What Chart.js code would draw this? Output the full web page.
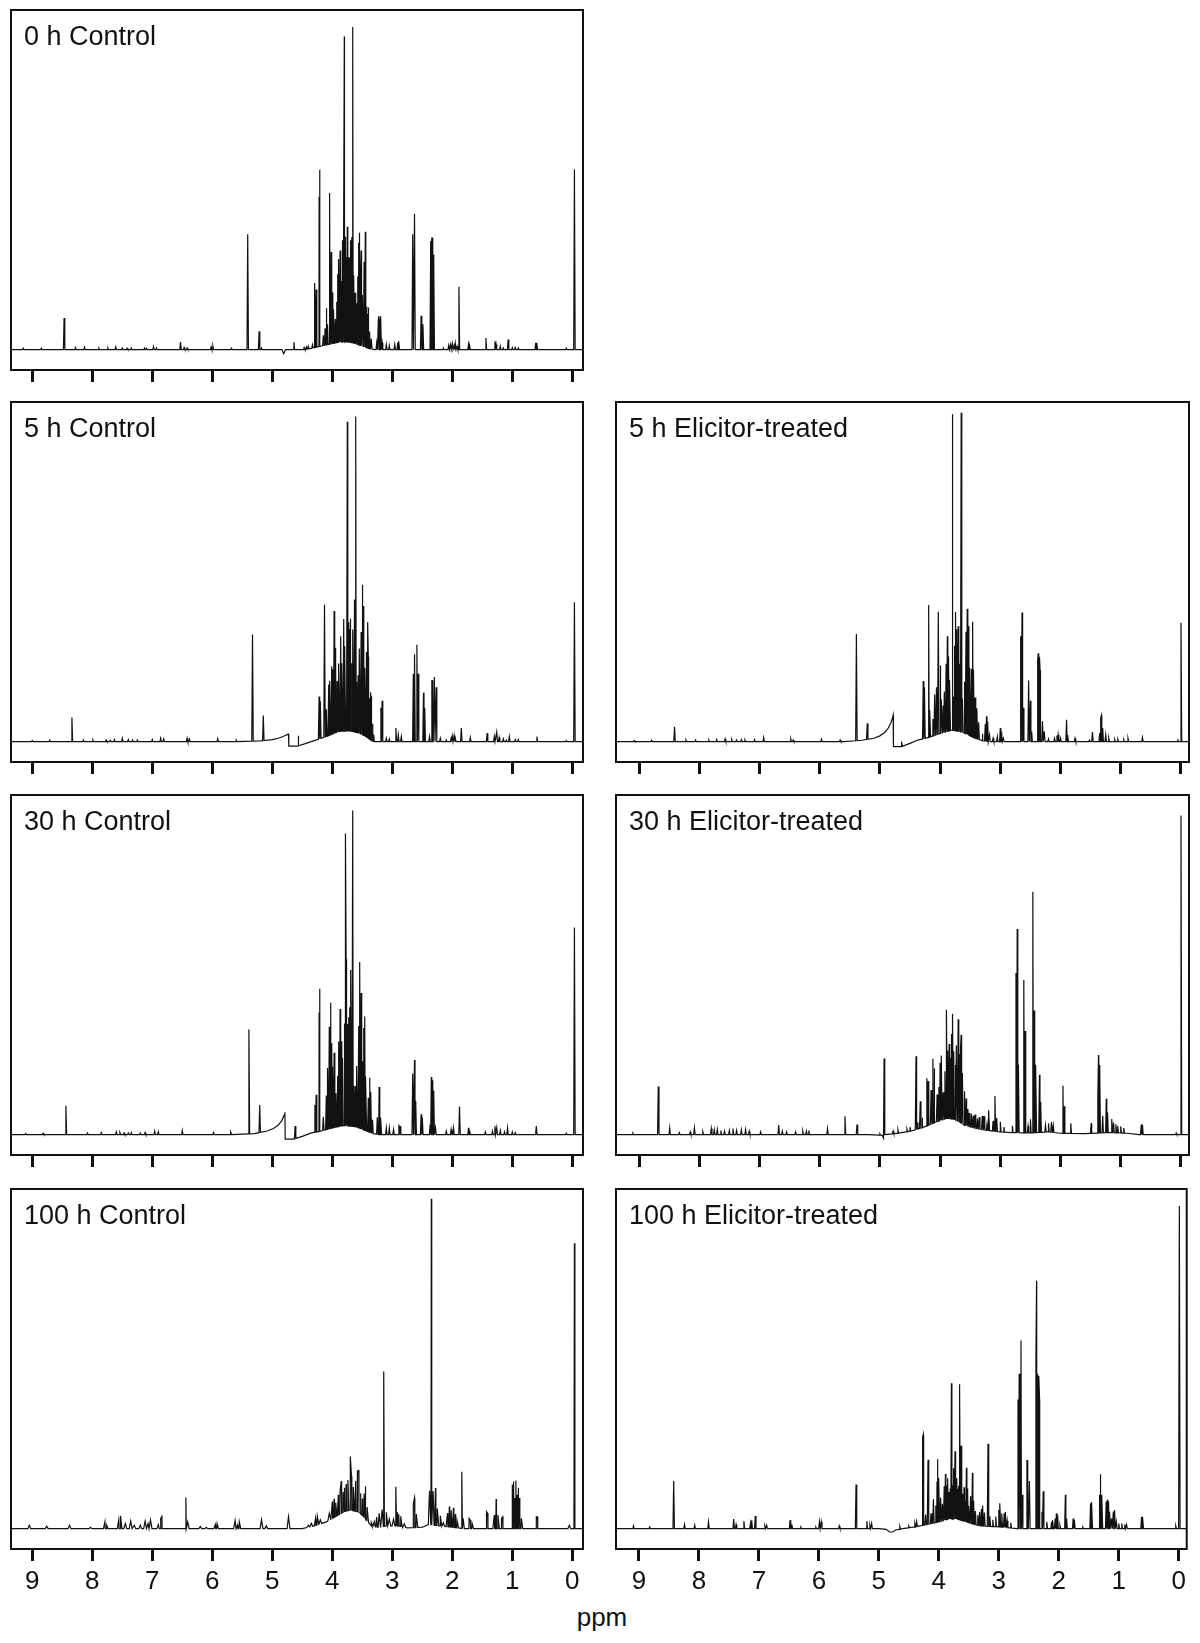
<!DOCTYPE html>
<html>
<head>
<meta charset="utf-8">
<title>1H NMR spectra</title>
<script src="https://cdn.jsdelivr.net/npm/chart.js@4.4.0/dist/chart.umd.min.js"></script>
<style>
    html, body { margin: 0; padding: 0; background: #fff; }
    #figure { position: relative; width: 1200px; height: 1643px; overflow: hidden; }
    #figure canvas { position: absolute; }
    #ppm-label {
        position: absolute; left: 540px; width: 124px; top: 1604px;
        text-align: center; font: 26px/26px "Liberation Sans", Arial, sans-serif; color: #111;
    }
</style>
</head>
<body>
<div id="figure">
    <div id="ppm-label">ppm</div>
</div>
<script>
// 刻度與標題
const PPM_TICKS = [9, 8, 7, 6, 5, 4, 3, 2, 1, 0];
const PANEL_TITLES = ['0 h Control', '5 h Control', '5 h Elicitor-treated', '30 h Control',
    '30 h Elicitor-treated', '100 h Control', '100 h Elicitor-treated'];

// 每張光譜: 基線 [ppm, 強度] 與峰 [ppm, 峰高, 半寬?]
const BASE_0H_CTRL = [[9.4, 0], [4.84, 0], [4.81, -0.012], [4.78, 0], [4.45, 0], [4.3, 0.006], [4.1, 0.014],
    [3.9, 0.022], [3.7, 0.022], [3.55, 0.014], [3.4, 0.004], [3.3, 0], [-0.2, 0]];
const PEAKS_0H_CTRL = [[9.15, 0.004], [8.85, 0.004], [8.47, 0.093], [8.28, 0.006], [8.13, 0.007], [7.89, 0.004],
    [7.74, 0.005], [7.61, 0.008], [7.5, 0.005], [7.42, 0.004], [7.35, 0.005], [7.13, 0.005], [7.1, 0.004],
    [6.98, 0.009], [6.93, 0.005], [6.53, 0.022], [6.47, 0.006], [6.42, 0.005], [6.02, 0.008], [5.99, 0.01],
    [5.68, 0.004], [5.41, 0.34], [5.22, 0.054], [5.18, 0.005], [4.64, 0.022], [4.47, 0.006], [4.43, 0.007],
    [4.4, 0.008], [4.33, 0.01], [4.29, 0.19], [4.27, 0.17], [4.22, 0.44], [4.21, 0.52], [4.15, 0.03],
    [4.12, 0.05], [4.1, 0.108], [4.08, 0.06], [4.05, 0.3], [4.04, 0.445], [4.02, 0.27], [4.0, 0.15],
    [3.98, 0.1], [3.95, 0.07], [3.93, 0.12], [3.91, 0.2], [3.89, 0.245], [3.87, 0.27], [3.85, 0.18],
    [3.83, 0.3], [3.8, 0.9], [3.785, 0.31], [3.77, 0.25], [3.75, 0.34], [3.73, 0.2], [3.72, 0.25],
    [3.7, 0.3], [3.68, 0.31], [3.66, 0.93], [3.64, 0.2], [3.62, 0.15], [3.6, 0.12], [3.58, 0.2],
    [3.56, 0.3], [3.55, 0.33], [3.53, 0.2], [3.52, 0.28], [3.5, 0.15], [3.47, 0.25], [3.45, 0.34],
    [3.43, 0.12], [3.41, 0.1], [3.4, 0.12], [3.38, 0.05], [3.35, 0.03], [3.26, 0.02], [3.23, 0.098],
    [3.21, 0.09], [3.19, 0.098], [3.17, 0.02], [3.1, 0.015], [3.05, 0.012], [2.96, 0.015], [2.91, 0.02],
    [2.89, 0.025], [2.66, 0.34], [2.63, 0.4], [2.52, 0.1], [2.49, 0.075], [2.36, 0.32], [2.345, 0.33],
    [2.33, 0.33], [2.31, 0.28], [2.15, 0.005], [2.06, 0.012], [2.03, 0.015], [2.0, 0.018], [1.97, 0.012],
    [1.95, 0.018], [1.92, 0.01], [1.89, 0.185], [1.73, 0.015], [1.71, 0.01], [1.44, 0.034], [1.29, 0.025],
    [1.27, 0.015], [1.2, 0.01], [1.15, 0.005], [1.07, 0.03], [1.0, 0.006], [0.95, 0.006], [0.9, 0.005],
    [0.61, 0.02], [0.59, 0.02], [0.1, 0.004], [-0.035, 0.53]];

const BASE_5H_CTRL = [[9.4, 0], [5.6, 0], [5.2, 0.002], [5.0, 0.006], [4.9, 0.01], [4.82, 0.015], [4.76, 0.02],
    [4.73, 0.022], [4.725, -0.013], [4.57, -0.013], [4.45, -0.006], [4.3, 0.003], [4.1, 0.015], [3.9, 0.03],
    [3.7, 0.032], [3.5, 0.022], [3.35, 0.004], [3.3, 0], [-0.2, 0]];
const PEAKS_5H_CTRL = [[9.0, 0.003], [8.71, 0.004], [8.34, 0.071], [8.15, 0.005], [7.99, 0.005], [7.77, 0.005],
    [7.7, 0.004], [7.63, 0.006], [7.5, 0.01], [7.4, 0.006], [7.33, 0.005], [7.25, 0.005], [7.0, 0.006],
    [6.86, 0.01], [6.81, 0.008], [6.42, 0.01], [6.38, 0.007], [5.91, 0.009], [5.6, 0.004], [5.33, 0.314],
    [5.15, 0.074], [4.57, 0.03], [4.22, 0.125], [4.2, 0.11], [4.13, 0.39], [4.1, 0.08], [4.06, 0.15],
    [4.04, 0.16], [4.01, 0.2], [3.99, 0.19], [3.97, 0.36], [3.95, 0.25], [3.94, 0.21], [3.92, 0.15],
    [3.89, 0.2], [3.86, 0.28], [3.84, 0.2], [3.81, 0.33], [3.79, 0.25], [3.75, 0.91], [3.73, 0.32],
    [3.71, 0.3], [3.7, 0.33], [3.68, 0.2], [3.66, 0.3], [3.63, 0.39], [3.61, 0.93], [3.59, 0.15],
    [3.57, 0.17], [3.55, 0.25], [3.52, 0.3], [3.5, 0.44], [3.48, 0.38], [3.46, 0.2], [3.43, 0.25],
    [3.41, 0.34], [3.4, 0.24], [3.38, 0.12], [3.36, 0.14], [3.35, 0.13], [3.33, 0.05], [3.31, 0.02],
    [3.19, 0.1], [3.17, 0.12], [3.16, 0.08], [3.1, 0.01], [3.05, 0.008], [2.94, 0.04], [2.9, 0.02],
    [2.85, 0.015], [2.65, 0.2], [2.63, 0.257], [2.59, 0.285], [2.57, 0.2], [2.48, 0.144], [2.46, 0.1],
    [2.38, 0.015], [2.34, 0.18], [2.33, 0.18], [2.3, 0.19], [2.27, 0.16], [2.2, 0.01], [2.1, 0.005],
    [2.02, 0.01], [2.0, 0.015], [1.97, 0.018], [1.95, 0.01], [1.85, 0.04], [1.7, 0.012], [1.42, 0.025],
    [1.3, 0.015], [1.26, 0.028], [1.22, 0.012], [1.15, 0.008], [1.1, 0.005], [1.05, 0.015], [0.95, 0.006],
    [0.9, 0.006], [0.59, 0.015], [0.1, 0.003], [-0.035, 0.41]];

const BASE_5H_ELIC = [[9.4, 0], [5.6, 0], [5.3, 0.004], [5.1, 0.01], [5.0, 0.017], [4.92, 0.027], [4.86, 0.04],
    [4.82, 0.055], [4.79, 0.07], [4.78, 0.078], [4.775, -0.015], [4.64, -0.015], [4.5, -0.005], [4.38, 0.004],
    [4.2, 0.012], [4.0, 0.024], [3.8, 0.034], [3.6, 0.026], [3.45, 0.012], [3.3, 0.003], [3.2, 0], [-0.2, 0]];
const PEAKS_5H_ELIC = [[9.08, 0.003], [8.79, 0.004], [8.41, 0.044], [8.22, 0.005], [8.06, 0.005], [7.84, 0.005],
    [7.71, 0.006], [7.57, 0.008], [7.46, 0.006], [7.38, 0.005], [7.3, 0.006], [7.24, 0.005], [7.08, 0.006],
    [6.93, 0.012], [6.48, 0.008], [6.44, 0.005], [5.97, 0.007], [5.66, 0.005], [5.39, 0.314], [5.21, 0.047],
    [4.64, 0.015], [4.28, 0.17], [4.26, 0.15], [4.19, 0.39], [4.17, 0.08], [4.12, 0.05], [4.09, 0.12],
    [4.06, 0.14], [4.03, 0.36], [4.0, 0.2], [3.98, 0.1], [3.95, 0.08], [3.93, 0.12], [3.9, 0.2],
    [3.88, 0.28], [3.86, 0.22], [3.84, 0.15], [3.8, 0.93], [3.78, 0.1], [3.76, 0.25], [3.74, 0.35],
    [3.72, 0.3], [3.7, 0.31], [3.68, 0.2], [3.65, 0.94], [3.63, 0.1], [3.6, 0.15], [3.57, 0.3],
    [3.55, 0.37], [3.53, 0.32], [3.51, 0.2], [3.48, 0.2], [3.46, 0.34], [3.44, 0.2], [3.42, 0.12],
    [3.39, 0.09], [3.36, 0.05], [3.3, 0.02], [3.25, 0.05], [3.23, 0.074], [3.21, 0.06], [3.18, 0.02],
    [3.12, 0.01], [3.05, 0.015], [3.0, 0.04], [2.98, 0.03], [2.95, 0.01], [2.67, 0.3], [2.66, 0.31],
    [2.64, 0.38], [2.62, 0.1], [2.53, 0.18], [2.5, 0.12], [2.48, 0.03], [2.38, 0.24], [2.37, 0.26],
    [2.35, 0.25], [2.34, 0.21], [2.3, 0.06], [2.27, 0.03], [2.2, 0.008], [2.1, 0.01], [2.06, 0.018],
    [2.04, 0.02], [2.0, 0.01], [1.9, 0.064], [1.88, 0.02], [1.76, 0.01], [1.52, 0.005], [1.47, 0.028],
    [1.35, 0.025], [1.33, 0.07], [1.32, 0.078], [1.3, 0.04], [1.25, 0.02], [1.2, 0.01], [1.1, 0.006],
    [1.05, 0.007], [0.95, 0.006], [0.88, 0.01], [0.64, 0.012], [0.05, 0.004], [0.0, 0.35]];

const BASE_30H_CTRL = [[9.4, 0], [5.7, 0], [5.3, 0.003], [5.1, 0.01], [4.98, 0.018], [4.9, 0.028], [4.84, 0.042],
    [4.8, 0.058], [4.79, 0.066], [4.785, -0.013], [4.64, -0.013], [4.5, -0.005], [4.35, 0.005], [4.2, 0.01],
    [4.0, 0.02], [3.8, 0.027], [3.6, 0.023], [3.45, 0.012], [3.3, 0.002], [3.2, 0], [-0.2, 0]];
const PEAKS_30H_CTRL = [[9.11, 0.003], [8.82, 0.004], [8.44, 0.085], [8.08, 0.005], [7.85, 0.006], [7.6, 0.008],
    [7.54, 0.006], [7.47, 0.005], [7.4, 0.005], [7.35, 0.006], [7.2, 0.005], [7.12, 0.006], [6.96, 0.01],
    [6.9, 0.009], [6.5, 0.012], [5.98, 0.006], [5.69, 0.008], [5.39, 0.307], [5.21, 0.081], [4.62, 0.037],
    [4.29, 0.08], [4.27, 0.11], [4.22, 0.35], [4.21, 0.42], [4.15, 0.04], [4.1, 0.1], [4.08, 0.18],
    [4.05, 0.3], [4.03, 0.37], [4.01, 0.25], [3.99, 0.18], [3.97, 0.22], [3.94, 0.1], [3.91, 0.15],
    [3.89, 0.25], [3.87, 0.345], [3.85, 0.25], [3.83, 0.2], [3.8, 0.3], [3.78, 0.86], [3.77, 0.49],
    [3.75, 0.3], [3.73, 0.32], [3.71, 0.35], [3.69, 0.46], [3.66, 0.93], [3.64, 0.12], [3.62, 0.12],
    [3.59, 0.18], [3.56, 0.3], [3.54, 0.49], [3.52, 0.4], [3.5, 0.2], [3.48, 0.3], [3.46, 0.335],
    [3.44, 0.16], [3.4, 0.1], [3.38, 0.16], [3.36, 0.12], [3.33, 0.04], [3.25, 0.05], [3.22, 0.14],
    [3.21, 0.12], [3.19, 0.05], [3.1, 0.02], [3.05, 0.02], [2.98, 0.015], [2.89, 0.03], [2.87, 0.025],
    [2.66, 0.18], [2.63, 0.22], [2.61, 0.1], [2.52, 0.06], [2.5, 0.05], [2.37, 0.03], [2.35, 0.17],
    [2.33, 0.16], [2.31, 0.13], [2.28, 0.02], [2.1, 0.01], [2.02, 0.015], [1.98, 0.02], [1.88, 0.083],
    [1.73, 0.02], [1.71, 0.012], [1.45, 0.008], [1.33, 0.01], [1.29, 0.025], [1.26, 0.02], [1.2, 0.012],
    [1.13, 0.008], [1.08, 0.02], [1.0, 0.008], [0.95, 0.006], [0.6, 0.025], [0.1, 0.004], [-0.035, 0.61]];

const BASE_30H_ELIC = [[9.4, 0], [5.2, 0], [4.96, -0.002], [4.94, -0.01], [4.92, 0], [4.7, 0.004], [4.5, 0.01],
    [4.3, 0.02], [4.1, 0.035], [3.9, 0.048], [3.75, 0.045], [3.6, 0.028], [3.4, 0.018], [3.2, 0.012],
    [3.0, 0.008], [2.8, 0.006], [2.5, 0.005], [2.2, 0.008], [2.0, 0.004], [1.6, 0.003], [1.2, 0.006],
    [0.9, 0.004], [0.7, 0], [-0.2, 0]];
const PEAKS_30H_ELIC = [[9.1, 0.004], [8.68, 0.142], [8.49, 0.02], [8.33, 0.006], [8.15, 0.008], [8.08, 0.02],
    [7.94, 0.008], [7.8, 0.018], [7.75, 0.014], [7.7, 0.016], [7.64, 0.012], [7.58, 0.01], [7.5, 0.012],
    [7.44, 0.018], [7.38, 0.012], [7.3, 0.014], [7.23, 0.015], [7.17, 0.01], [6.98, 0.008], [6.68, 0.028],
    [6.62, 0.01], [6.55, 0.008], [6.4, 0.008], [6.28, 0.01], [6.22, 0.01], [6.18, 0.012], [5.87, 0.018],
    [5.58, 0.054], [5.38, 0.03], [5.0, 0.004], [4.93, 0.229], [4.78, 0.008], [4.7, 0.01], [4.55, 0.008],
    [4.5, 0.012], [4.4, 0.216], [4.38, 0.02], [4.33, 0.08], [4.3, 0.03], [4.22, 0.14], [4.2, 0.13],
    [4.15, 0.1], [4.12, 0.19], [4.1, 0.16], [4.05, 0.08], [4.02, 0.1], [4.0, 0.17], [3.98, 0.19],
    [3.95, 0.08], [3.92, 0.14], [3.89, 0.32], [3.87, 0.2], [3.85, 0.22], [3.83, 0.18], [3.81, 0.25],
    [3.79, 0.31], [3.77, 0.2], [3.75, 0.16], [3.73, 0.22], [3.7, 0.3], [3.68, 0.2], [3.66, 0.22],
    [3.65, 0.26], [3.63, 0.15], [3.6, 0.1], [3.57, 0.08], [3.55, 0.05], [3.52, 0.04], [3.48, 0.04],
    [3.45, 0.035], [3.42, 0.04], [3.38, 0.03], [3.35, 0.035], [3.3, 0.04], [3.27, 0.04], [3.22, 0.02],
    [3.19, 0.06], [3.12, 0.03], [3.09, 0.104], [3.06, 0.04], [3.0, 0.03], [2.94, 0.015], [2.8, 0.02],
    [2.74, 0.47], [2.72, 0.6], [2.7, 0.2], [2.61, 0.45], [2.59, 0.3], [2.54, 0.02], [2.5, 0.04],
    [2.46, 0.71], [2.44, 0.36], [2.43, 0.34], [2.41, 0.2], [2.35, 0.17], [2.33, 0.09], [2.25, 0.02],
    [2.2, 0.025], [2.15, 0.03], [2.12, 0.02], [1.96, 0.14], [1.94, 0.08], [1.83, 0.03], [1.5, 0.012],
    [1.49, 0.03], [1.38, 0.1], [1.37, 0.23], [1.35, 0.2], [1.3, 0.05], [1.24, 0.1], [1.22, 0.06],
    [1.15, 0.04], [1.12, 0.03], [1.08, 0.025], [1.05, 0.02], [1.0, 0.02], [0.95, 0.015], [0.66, 0.03],
    [0.64, 0.03], [0.08, 0.005], [0.0, 0.94]];

const BASE_100H_CTRL = [[9.4, 0], [4.5, 0], [4.3, 0.008], [4.1, 0.02], [3.95, 0.035], [3.8, 0.05], [3.7, 0.055],
    [3.55, 0.048], [3.45, 0.03], [3.35, 0.008], [3.25, 0.004], [3.1, 0.008], [2.9, 0.008], [2.75, 0.002],
    [2.5, 0.004], [2.4, 0.012], [2.2, 0.008], [2.0, 0.004], [1.8, 0], [-0.2, 0]];
const PEAKS_100H_CTRL = [[9.05, 0.01], [8.76, 0.007], [8.38, 0.01], [8.03, 0.004], [7.79, 0.02], [7.76, 0.01],
    [7.56, 0.025], [7.53, 0.038], [7.45, 0.015], [7.36, 0.022], [7.3, 0.01], [7.2, 0.01], [7.12, 0.022],
    [7.07, 0.015], [7.03, 0.025], [6.9, 0.012], [6.86, 0.03], [6.84, 0.036], [6.44, 0.092, 0.01],
    [6.41, 0.02], [6.2, 0.006], [6.1, 0.004], [5.95, 0.012], [5.92, 0.014], [5.62, 0.024], [5.58, 0.01],
    [5.55, 0.02], [5.18, 0.026], [5.1, 0.008], [4.73, 0.035], [4.4, 0.006], [4.35, 0.01], [4.28, 0.02],
    [4.25, 0.025], [4.2, 0.012], [4.05, 0.02], [4.0, 0.05], [3.97, 0.055], [3.94, 0.04], [3.9, 0.06],
    [3.87, 0.07], [3.85, 0.095], [3.82, 0.06], [3.8, 0.07], [3.77, 0.08], [3.74, 0.09], [3.7, 0.157],
    [3.68, 0.1], [3.65, 0.07], [3.61, 0.09], [3.58, 0.12], [3.56, 0.123], [3.53, 0.06], [3.5, 0.05],
    [3.47, 0.07], [3.45, 0.095], [3.42, 0.04], [3.35, 0.01], [3.3, 0.015], [3.26, 0.03], [3.22, 0.04],
    [3.17, 0.05], [3.14, 0.456, 0.008], [3.1, 0.04], [3.05, 0.02], [2.98, 0.02], [2.94, 0.115, 0.012],
    [2.92, 0.04], [2.89, 0.035], [2.86, 0.03], [2.8, 0.01], [2.65, 0.07], [2.63, 0.087], [2.6, 0.04],
    [2.38, 0.1], [2.35, 0.96, 0.008], [2.32, 0.1], [2.28, 0.11], [2.25, 0.05], [2.2, 0.03], [2.15, 0.01],
    [2.08, 0.04], [2.05, 0.06], [2.02, 0.05], [1.98, 0.058], [1.95, 0.04], [1.92, 0.02],
    [1.84, 0.167, 0.008], [1.82, 0.03], [1.72, 0.03], [1.7, 0.025], [1.67, 0.015], [1.43, 0.05],
    [1.41, 0.045], [1.3, 0.04], [1.27, 0.087], [1.24, 0.04], [1.18, 0.03], [1.16, 0.035], [1.0, 0.13],
    [0.98, 0.139], [0.96, 0.09], [0.94, 0.142], [0.92, 0.1], [0.9, 0.12], [0.88, 0.09], [0.85, 0.03],
    [0.6, 0.035], [0.58, 0.035], [0.05, 0.01], [-0.035, 0.84, 0.008]];

const BASE_100H_ELIC = [[9.4, 0], [5.0, 0], [4.88, -0.002], [4.82, -0.01], [4.77, -0.01], [4.72, -0.004],
    [4.6, 0], [4.4, 0.005], [4.2, 0.012], [4.0, 0.02], [3.85, 0.028], [3.7, 0.028], [3.55, 0.02],
    [3.4, 0.012], [3.3, 0.008], [3.1, 0.006], [2.9, 0.004], [2.7, 0], [-0.2, 0]];
const PEAKS_100H_ELIC = [[9.09, 0.008], [8.82, 0.005], [8.42, 0.14], [8.24, 0.012], [8.07, 0.01], [7.84, 0.02],
    [7.42, 0.028], [7.38, 0.012], [7.25, 0.022], [7.14, 0.015], [7.12, 0.025], [7.06, 0.037], [6.9, 0.008],
    [6.87, 0.01], [6.48, 0.025], [6.45, 0.012], [6.3, 0.004], [6.05, 0.004], [5.99, 0.02], [5.96, 0.02],
    [5.66, 0.008], [5.38, 0.13], [5.2, 0.022], [5.15, 0.01], [5.12, 0.015], [4.65, 0.008], [4.5, 0.005],
    [4.4, 0.01], [4.37, 0.015], [4.27, 0.26], [4.26, 0.267], [4.22, 0.03], [4.18, 0.19], [4.13, 0.03],
    [4.09, 0.07], [4.05, 0.05], [4.03, 0.12], [4.02, 0.185], [4.0, 0.13], [3.97, 0.07], [3.94, 0.05],
    [3.91, 0.1], [3.89, 0.135], [3.87, 0.1], [3.85, 0.12], [3.83, 0.08], [3.81, 0.09], [3.79, 0.4],
    [3.77, 0.1], [3.75, 0.15], [3.73, 0.2], [3.71, 0.12], [3.69, 0.09], [3.67, 0.1], [3.65, 0.4],
    [3.63, 0.22], [3.6, 0.08], [3.58, 0.1], [3.56, 0.06], [3.54, 0.16], [3.52, 0.1], [3.5, 0.05],
    [3.47, 0.08], [3.44, 0.15], [3.42, 0.07], [3.39, 0.04], [3.35, 0.03], [3.32, 0.04], [3.29, 0.05],
    [3.27, 0.06], [3.24, 0.04], [3.18, 0.243], [3.15, 0.03], [3.1, 0.02], [3.05, 0.03], [3.0, 0.05],
    [2.98, 0.07], [2.95, 0.04], [2.91, 0.04], [2.89, 0.045], [2.86, 0.02], [2.8, 0.015], [2.68, 0.38],
    [2.66, 0.456], [2.63, 0.554], [2.61, 0.1], [2.53, 0.2], [2.52, 0.2], [2.49, 0.14], [2.38, 0.5],
    [2.37, 0.73], [2.35, 0.456], [2.33, 0.45], [2.32, 0.38], [2.28, 0.05], [2.26, 0.11], [2.2, 0.02],
    [2.12, 0.02], [2.1, 0.025], [2.06, 0.03], [2.04, 0.045], [2.02, 0.04], [1.98, 0.01], [1.89, 0.1],
    [1.87, 0.03], [1.76, 0.03], [1.74, 0.025], [1.6, 0.004], [1.47, 0.075], [1.45, 0.078], [1.32, 0.1],
    [1.31, 0.15], [1.3, 0.16], [1.28, 0.1], [1.21, 0.08], [1.19, 0.085], [1.17, 0.08], [1.15, 0.05],
    [1.12, 0.03], [1.09, 0.05], [1.07, 0.055], [1.04, 0.02], [1.0, 0.015], [0.95, 0.015], [0.9, 0.012],
    [0.87, 0.012], [0.62, 0.035], [0.6, 0.035], [0.05, 0.008], [-0.01, 0.95]];

// 版面: 兩欄四列的框
const COLS = [
    { left: 11, width: 572, min: -0.178, max: 9.355 },
    { left: 616, width: 573, min: -0.133, max: 9.382 }
];
const ROW_TOPS = [10, 402, 795, 1189];
const FRAME_H = 360;
const AXIS_H = 50;
const FONT = '"Liberation Sans", Arial, sans-serif';

const PANELS = [
    { title: 0, base: BASE_0H_CTRL, peaks: PEAKS_0H_CTRL, col: 0, row: 0, w: 0.012 },
    { title: 1, base: BASE_5H_CTRL, peaks: PEAKS_5H_CTRL, col: 0, row: 1, w: 0.012 },
    { title: 2, base: BASE_5H_ELIC, peaks: PEAKS_5H_ELIC, col: 1, row: 1, w: 0.012 },
    { title: 3, base: BASE_30H_CTRL, peaks: PEAKS_30H_CTRL, col: 0, row: 2, w: 0.012 },
    { title: 4, base: BASE_30H_ELIC, peaks: PEAKS_30H_ELIC, col: 1, row: 2, w: 0.012 },
    { title: 5, base: BASE_100H_CTRL, peaks: PEAKS_100H_CTRL, col: 0, row: 3, w: 0.024 },
    { title: 6, base: BASE_100H_ELIC, peaks: PEAKS_100H_ELIC, col: 1, row: 3, w: 0.012 }
];

// 基線在 ppm 位置的值 (基線點之間)
function baseAt(base, p) {
    for (let i = 0; i < base.length - 1; i++) {
        const [x0, y0] = base[i];
        const [x1, y1] = base[i + 1];
        if (p <= x0 && p >= x1) {
            return x0 === x1 ? y1 : y0 + (y1 - y0) * (p - x0) / (x1 - x0);
        }
    }
    return 0;
}

// 把基線點與峰合成一條折線
function buildSpectrum(base, peaks, w0) {
    const pts = base.map(([x, y]) => ({ x, y }));
    peaks.forEach(([p, h, w = w0]) => {
        pts.push({ x: p + w, y: baseAt(base, p + w) });
        pts.push({ x: p, y: baseAt(base, p) + h });
        pts.push({ x: p - w, y: baseAt(base, p - w) });
    });
    return pts.sort((a, b) => b.x - a.x);
}

// 畫外框與框內標題
const framePlugin = {
    id: 'panelFrame',
    afterDraw(chart, args, opts) {
        const { ctx, chartArea: a } = chart;
        ctx.save();
        ctx.strokeStyle = '#111';
        ctx.lineWidth = 2;
        ctx.strokeRect(a.left, a.top, a.right - a.left, a.bottom - a.top);
        ctx.fillStyle = '#111';
        ctx.font = '27px ' + FONT;
        ctx.textBaseline = 'alphabetic';
        ctx.fillText(opts.title, a.left + 13, a.top + 35);
        ctx.restore();
    }
};

const figure = document.getElementById('figure');
PANELS.forEach(panel => {
    const col = COLS[panel.col];
    const canvas = document.createElement('canvas');
    canvas.width = col.width + 4;
    canvas.height = FRAME_H + 2 + AXIS_H;
    canvas.style.left = (col.left - 2) + 'px';
    canvas.style.top = (ROW_TOPS[panel.row] - 2) + 'px';
    figure.appendChild(canvas);

    new Chart(canvas, {
        type: 'line',
        data: {
            datasets: [{
                data: buildSpectrum(panel.base, panel.peaks, panel.w),
                borderColor: '#111',
                borderWidth: 1.2,
                pointRadius: 0,
                tension: 0,
                fill: false
            }]
        },
        options: {
            responsive: false,
            animation: false,
            events: [],
            layout: { padding: { left: 2, right: 2, top: 2, bottom: 0 } },
            plugins: {
                legend: { display: false },
                tooltip: { enabled: false },
                panelFrame: { title: PANEL_TITLES[panel.title] }
            },
            scales: {
                x: {
                    type: 'linear',
                    reverse: true,
                    min: col.min,
                    max: col.max,
                    afterBuildTicks: axis => { axis.ticks = PPM_TICKS.map(v => ({ value: v })); },
                    afterFit: axis => { axis.height = AXIS_H; },
                    border: { display: false },
                    grid: { drawOnChartArea: false, drawTicks: true, tickLength: 12, tickWidth: 3, tickColor: '#111' },
                    ticks: {
                        display: panel.row === 3,
                        autoSkip: false,
                        maxRotation: 0,
                        padding: 5,
                        color: '#111',
                        font: { size: 26, family: FONT }
                    }
                },
                y: { display: false, min: -0.06, max: 1.0 }
            }
        },
        plugins: [framePlugin]
    });
});
</script>
</body>
</html>
